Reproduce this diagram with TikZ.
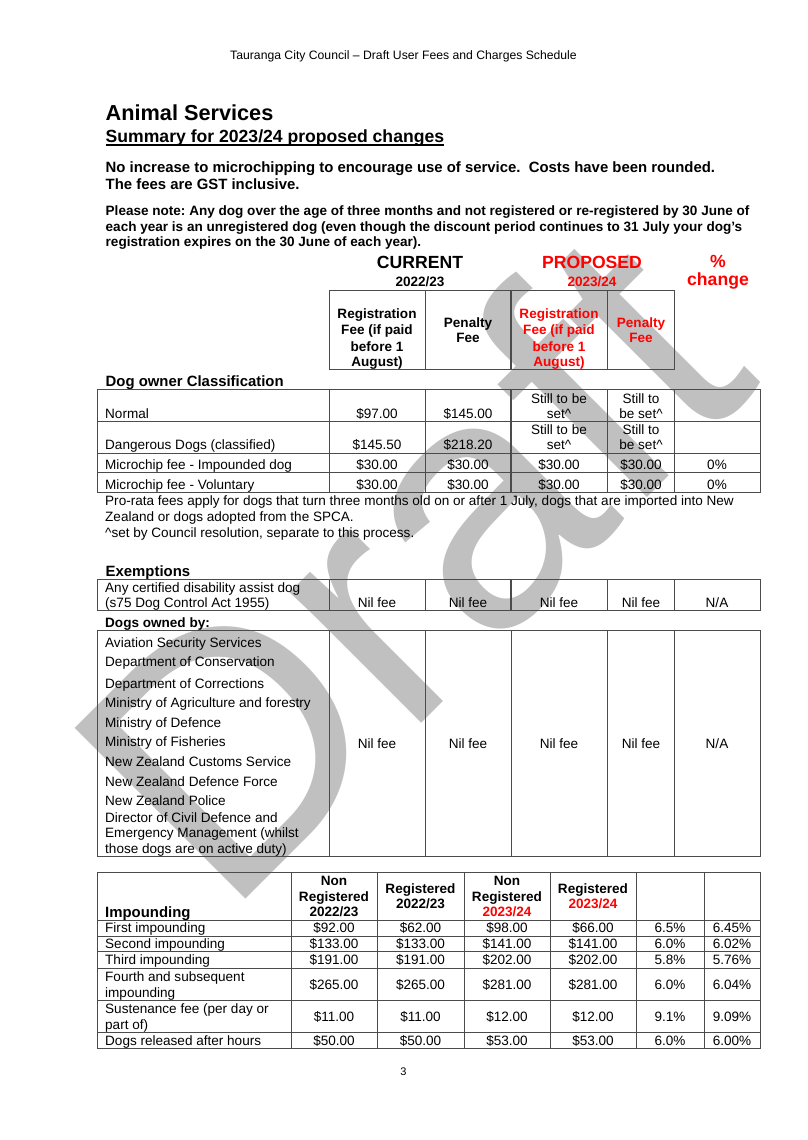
\documentclass[tikz,border=0pt]{standalone}
\usepackage{fontspec}
\setmainfont{Liberation Sans}
\usetikzlibrary{calc}
\definecolor{wm}{RGB}{192,192,192}
\definecolor{rd}{RGB}{255,0,0}
\definecolor{ln}{RGB}{75,75,75}
\frenchspacing
\newcounter{nd}
\newcommand\TL[4][]{\stepcounter{nd}\node[tx,anchor=base west,#1] (t\arabic{nd}) at (#2,#3) {#4};}
\newcommand\TC[4][]{\stepcounter{nd}\node[tx,anchor=base,#1] (t\arabic{nd}) at (#2,#3) {#4};}
\tikzset{
  tx/.style={inner sep=0pt, font=\fontsize{13.55}{15.6}\selectfont},
  bf/.style={font=\fontsize{13.55}{15.6}\selectfont\bfseries},
  hd/.style={font=\fontsize{14.9}{17}\selectfont\bfseries},
  big/.style={font=\fontsize{17.6}{20}\selectfont\bfseries},
  rtx/.style={text=rd},
  grid/.style={draw=ln, line width=1pt},
  thk/.style={draw=ln, line width=1.5pt},
}
\begin{document}
\begin{tikzpicture}[x=1pt,y=-1pt]
\fill[white] (0,0) rectangle (807,1140);
\useasboundingbox (0,0) rectangle (807,1140);
% watermark
\node[inner sep=0pt, anchor=base west, rotate=45, text=wm, font=\fontsize{351}{351}\selectfont] (wmk) at (225.4,919.6) {Draft};

% page header and intro
\TC[font=\fontsize{12.2}{14}\selectfont]{403.5}{59.5}{Tauranga City Council – Draft User Fees and Charges Schedule}
\TL[font=\fontsize{21.7}{25}\selectfont\bfseries]{105.5}{120.5}{Animal Services}
\node[tx,big,anchor=base west] (sum) at (105.5,142.5) {Summary for 2023/24 proposed changes};
\draw[line width=1.3pt] ($(sum.base west)+(0,2.4)$) -- ($(sum.base east)+(0,2.4)$);
\TL[font=\fontsize{14.9}{17}\selectfont\bfseries]{105.5}{172}{No increase to microchipping to encourage use of service.\ \ Costs have been rounded.}
\TL[font=\fontsize{14.9}{17}\selectfont\bfseries]{105.5}{189.3}{The fees are GST inclusive.}
\TL[bf]{105.5}{215.9}{Please note: Any dog over the age of three months and not registered or re-registered by 30 June of}
\TL[bf]{105.5}{231.6}{each year is an unregistered dog (even though the discount period continues to 31 July your dog’s}
\TL[bf]{105.5}{246.6}{registration expires on the 30 June of each year).}

% column group titles
\TC[big]{420}{268}{CURRENT}
\TC[big,rtx]{592}{268}{PROPOSED}
\TC[big,rtx]{718}{267}{\%}
\TC[big,rtx]{718}{285.3}{change}
\TC[bf]{420}{286.9}{2022/23}
\TC[bf,rtx]{592}{286.9}{2023/24}

% header box
\draw[grid] (329,290) rectangle (674.5,369.5);
\foreach \x in {425,607} {\draw[grid] (\x,290) -- (\x,369.5);}
\draw[thk] (511,290) -- (511,369.5);
\TC[bf]{377}{318.9}{Registration}
\TC[bf]{377}{334.9}{Fee (if paid}
\TC[bf]{377}{351.6}{before 1}
\TC[bf]{377}{366.6}{August)}
\TC[bf]{468}{327.6}{Penalty}
\TC[bf]{468}{342.9}{Fee}
\TC[bf,rtx]{559}{318.9}{Registration}
\TC[bf,rtx]{559}{334.9}{Fee (if paid}
\TC[bf,rtx]{559}{351.6}{before 1}
\TC[bf,rtx]{559}{366.6}{August)}
\TC[bf,rtx]{641}{327.6}{Penalty}
\TC[bf,rtx]{641}{342.9}{Fee}

% dog owner classification
\TL[hd]{105.5}{386.5}{Dog owner Classification}
\draw[grid] (97.5,389.5) rectangle (760,492.3);
\foreach \y in {421,453.3,472.7} {\draw[grid] (97.5,\y) -- (760,\y);}
\foreach \x in {329,425,607,674.5} {\draw[grid] (\x,389.5) -- (\x,492.3);}
\draw[thk] (511,389.5) -- (511,492.3);
\TL{105}{418.2}{Normal}
\TC{377}{418.2}{\$97.00}
\TC{468}{418.2}{\$145.00}
\TC{559}{403.2}{Still to be}
\TC{559}{418.2}{set\textasciicircum}
\TC{641}{403.2}{Still to}
\TC{641}{418.2}{be set\textasciicircum}
\TL{105}{449.9}{Dangerous Dogs (classified)}
\TC{377}{449.9}{\$145.50}
\TC{468}{449.9}{\$218.20}
\TC{559}{434.2}{Still to be}
\TC{559}{449.9}{set\textasciicircum}
\TC{641}{434.2}{Still to}
\TC{641}{449.9}{be set\textasciicircum}
\TL{105}{469.9}{Microchip fee - Impounded dog}
\foreach \xx in {377,468,559,641} {\TC{\xx}{469.9}{\$30.00}}
\TC{717}{469.9}{0\%}
\TL{105}{489.2}{Microchip fee - Voluntary}
\foreach \xx in {377,468,559,641} {\TC{\xx}{489.2}{\$30.00}}
\TC{717}{489.2}{0\%}
\TL{105}{505.9}{Pro-rata fees apply for dogs that turn three months old on or after 1 July, dogs that are imported into New}
\TL{105}{521.5}{Zealand or dogs adopted from the SPCA.}
\TL{105}{537.1}{\textasciicircum set by Council resolution, separate to this process.}

% exemptions
\TL[hd]{105.5}{576}{Exemptions}
\draw[grid] (97.5,579) rectangle (760,610.8);
\foreach \x in {329,425,607,674.5} {\draw[grid] (\x,579) -- (\x,610.8);}
\draw[thk] (511,579) -- (511,610.8);
\TL{105}{592.5}{Any certified disability assist dog}
\TL{105}{607.7}{(s75 Dog Control Act 1955)}
\foreach \xx in {377,468,559,641} {\TC{\xx}{607.7}{Nil fee}}
\TC{717}{607.7}{N/A}
\TL[bf]{105}{627.8}{Dogs owned by:}
\draw[grid] (97.5,630.4) rectangle (760,856.5);
\foreach \x in {329,425,511,607,674.5} {\draw[grid] (\x,630.4) -- (\x,856.5);}
\TL{105}{647.2}{Aviation Security Services}
\TL{105}{666.9}{Department of Conservation}
\TL{105}{688.2}{Department of Corrections}
\TL{105}{707.6}{Ministry of Agriculture and forestry}
\TL{105}{727.2}{Ministry of Defence}
\TL{105}{746.9}{Ministry of Fisheries}
\TL{105}{766.6}{New Zealand Customs Service}
\TL{105}{786.2}{New Zealand Defence Force}
\TL{105}{805.6}{New Zealand Police}
\TL{105}{822.2}{Director of Civil Defence and}
\TL{105}{837.6}{Emergency Management (whilst}
\TL{105}{853.2}{those dogs are on active duty)}
\foreach \xx in {377,468,559,641} {\TC{\xx}{748.6}{Nil fee}}
\TC{717}{748.6}{N/A}

% impounding
\draw[grid] (97.5,872.7) rectangle (760,1048.3);
\foreach \y in {920,936,951.7,968.3,1000,1032.5} {\draw[grid] (97.5,\y) -- (760,\y);}
\foreach \x in {291,377,464,550,636,704} {\draw[grid] (\x,872.7) -- (\x,1048.3);}
\TL[hd]{105}{917}{Impounding}
\TC[bf]{334}{885.6}{Non}
\TC[bf]{334}{901}{Registered}
\TC[bf]{334}{916.6}{2022/23}
\TC[bf]{420.5}{893.2}{Registered}
\TC[bf]{420.5}{908.2}{2022/23}
\TC[bf]{507}{885.6}{Non}
\TC[bf]{507}{901}{Registered}
\TC[bf,rtx]{507}{916.6}{2023/24}
\TC[bf]{593}{893.2}{Registered}
\TC[bf,rtx]{593}{908.2}{2023/24}
\TL{105}{932.9}{First impounding}
\foreach \xx/\v in {334/\$92.00,420.5/\$62.00,507/\$98.00,593/\$66.00,670/6.5\%,732/6.45\%} {\TC{\xx}{932.9}{\v}}
\TL{105}{948.9}{Second impounding}
\foreach \xx/\v in {334/\$133.00,420.5/\$133.00,507/\$141.00,593/\$141.00,670/6.0\%,732/6.02\%} {\TC{\xx}{948.9}{\v}}
\TL{105}{964.9}{Third impounding}
\foreach \xx/\v in {334/\$191.00,420.5/\$191.00,507/\$202.00,593/\$202.00,670/5.8\%,732/5.76\%} {\TC{\xx}{964.9}{\v}}
\TL{105}{981.6}{Fourth and subsequent}
\TL{105}{997.6}{impounding}
\foreach \xx/\v in {334/\$265.00,420.5/\$265.00,507/\$281.00,593/\$281.00,670/6.0\%,732/6.04\%} {\TC{\xx}{989.6}{\v}}
\TL{105}{1013.9}{Sustenance fee (per day or}
\TL{105}{1029.6}{part of)}
\foreach \xx/\v in {334/\$11.00,420.5/\$11.00,507/\$12.00,593/\$12.00,670/9.1\%,732/9.09\%} {\TC{\xx}{1021.6}{\v}}
\TL{105}{1045.4}{Dogs released after hours}
\foreach \xx/\v in {334/\$50.00,420.5/\$50.00,507/\$53.00,593/\$53.00,670/6.0\%,732/6.00\%} {\TC{\xx}{1045.4}{\v}}

\TC[font=\fontsize{11}{13}\selectfont]{403.5}{1075.5}{3}
\end{tikzpicture}
\end{document}
